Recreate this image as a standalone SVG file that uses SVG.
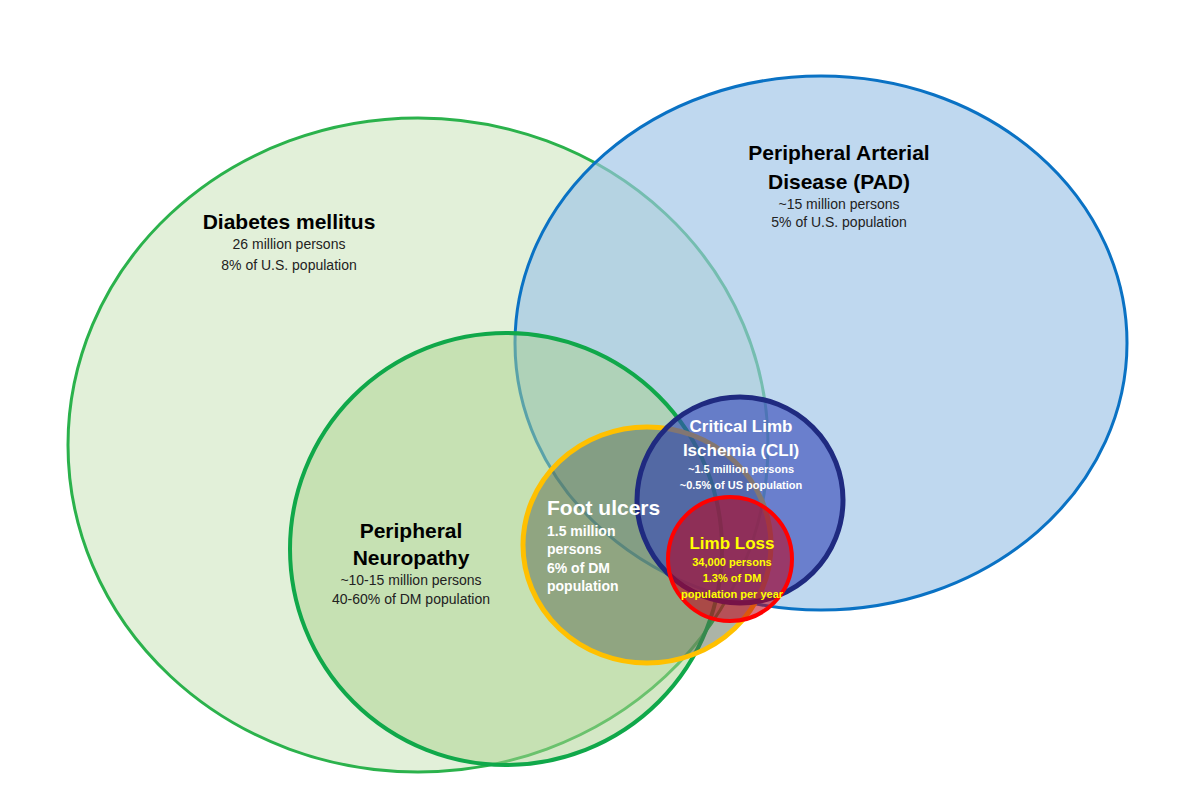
<svg xmlns="http://www.w3.org/2000/svg" width="1200" height="800" viewBox="0 0 1200 800">
<style>
text{font-family:"Liberation Sans",Arial,sans-serif;text-anchor:middle}
.t{font-weight:bold;font-size:21px;fill:#000}
.s{font-size:14px;fill:#222}
.w{fill:#fff;font-weight:bold}
.y{fill:#ffff00;font-weight:bold}
</style>
<rect width="1200" height="800" fill="#fff"/>
<g id="diabetes"><ellipse cx="418" cy="445" rx="350" ry="327" fill="#e2f0d9" stroke="#2bb24c" stroke-width="3"/></g>
<g id="pad"><ellipse cx="821" cy="343" rx="306" ry="267" fill="#9dc3e6" fill-opacity="0.65" stroke="#0a72c4" stroke-width="3"/></g>
<g id="neuropathy"><circle cx="506" cy="549" r="216" fill="#a9d18e" fill-opacity="0.5" stroke="#10a84a" stroke-width="4"/></g>
<g id="foot"><ellipse cx="647" cy="545" rx="124" ry="118" fill="#5a6a50" fill-opacity="0.5" stroke="#ffc000" stroke-width="5"/></g>
<g id="cli"><circle cx="740" cy="500" r="103" fill="#3548b8" fill-opacity="0.62" stroke="#1f2a80" stroke-width="5"/></g>
<g id="limb"><circle cx="730" cy="559" r="62" fill="#c00018" fill-opacity="0.55" stroke="#ff0000" stroke-width="4"/></g>
<g id="labels">
<text class="t" x="289" y="229">Diabetes mellitus</text>
<text class="s" x="289" y="249">26 million persons</text>
<text class="s" x="289" y="270">8% of U.S. population</text>
<text class="t" x="839" y="160">Peripheral Arterial</text>
<text class="t" x="839" y="189">Disease (PAD)</text>
<text class="s" x="839" y="209">~15 million persons</text>
<text class="s" x="839" y="227">5% of U.S. population</text>
<text class="t" x="411" y="538">Peripheral</text>
<text class="t" x="411" y="565">Neuropathy</text>
<text class="s" x="411" y="585">~10-15 million persons</text>
<text class="s" x="411" y="604">40-60% of DM population</text>
<text class="w" x="741" y="432" font-size="17">Critical Limb</text>
<text class="w" x="741" y="456" font-size="17">Ischemia  (CLI)</text>
<text class="w" x="741" y="473" font-size="11" font-weight="normal">~1.5  million  persons</text>
<text class="w" x="741" y="489" font-size="11" font-weight="normal">~0.5%  of US population</text>
<text class="w" x="547" y="515" font-size="21" style="text-anchor:start">Foot ulcers</text>
<text class="w" x="547" y="536" font-size="14" style="text-anchor:start">1.5 million</text>
<text class="w" x="547" y="554" font-size="14" style="text-anchor:start">persons</text>
<text class="w" x="547" y="573" font-size="14" style="text-anchor:start">6% of DM</text>
<text class="w" x="547" y="591" font-size="14" style="text-anchor:start">population</text>
<text class="y" x="732" y="549" font-size="17">Limb  Loss</text>
<text class="y" x="732" y="566" font-size="11">34,000  persons</text>
<text class="y" x="732" y="582" font-size="11">1.3%  of DM</text>
<text class="y" x="732" y="598" font-size="11">population per year</text>
</g>
<g id="connectors"/>
</svg>
